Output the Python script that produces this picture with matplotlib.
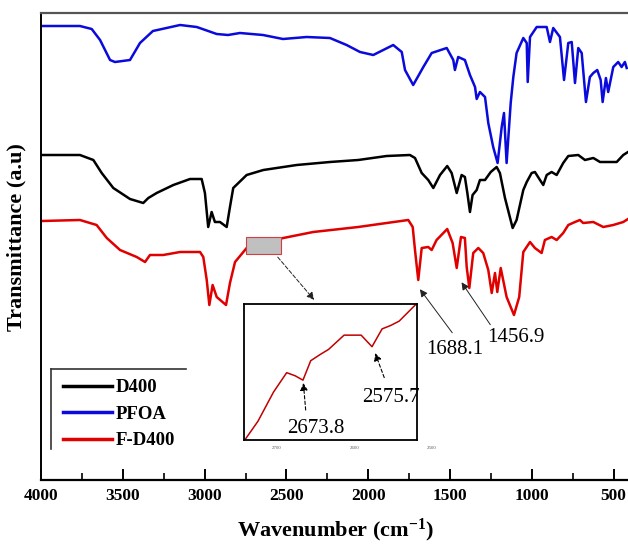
import matplotlib
matplotlib.use("Agg")
import matplotlib.pyplot as plt
from matplotlib.lines import Line2D
import matplotlib.transforms as mtransforms

plt.rcParams['font.family'] = ['Liberation Serif', 'DejaVu Serif']
plt.rcParams['mathtext.fontset'] = 'custom'
plt.rcParams['mathtext.rm'] = 'Liberation Serif:bold'
plt.rcParams['mathtext.it'] = 'Liberation Serif:bold'
plt.rcParams['mathtext.bf'] = 'Liberation Serif:bold'

# ---------------- data (wavenumber cm^-1, transmittance a.u.) ----------------
pfoa_wn = [3996, 3762, 3690, 3639, 3578, 3548, 3456, 3395, 3316, 3150, 3048, 2926,
           2857, 2784, 2643, 2521, 2376, 2234, 2132, 2050, 1969, 1847, 1795, 1775,
           1725, 1663, 1612, 1520, 1480, 1470, 1450, 1409, 1378, 1347, 1337, 1317,
           1286, 1266, 1236, 1209, 1184, 1170, 1154, 1129, 1113, 1093, 1052, 1031,
           1025, 1011, 970, 909, 889, 869, 828, 803, 777, 756, 736, 716, 695, 669,
           645, 624, 600, 579, 567, 547, 533, 502, 472, 451, 431, 420]
pfoa_t = [454, 454, 451, 440, 420, 418, 420, 437, 449, 455, 453, 446,
          445, 447, 445, 441, 443, 442, 435, 428, 425, 435, 428, 410,
          395, 413, 427, 432, 420, 410, 423, 420, 405, 393, 381, 388,
          383, 357, 333, 317, 353, 367, 317, 377, 403, 427, 442, 437,
          398, 443, 453, 453, 438, 452, 443, 400, 437, 438, 397, 432, 427, 378,
          403, 407, 410, 400, 378, 402, 388, 413, 418, 413, 418, 412]

d400_wn = [3996, 3762, 3680, 3629, 3558, 3456, 3375, 3344, 3293, 3191, 3089, 3018,
           2998, 2978, 2957, 2937, 2906, 2865, 2845, 2825, 2743, 2641, 2437, 2234,
           2061, 1887, 1745, 1714, 1673, 1633, 1602, 1561, 1517, 1490, 1459, 1429,
           1409, 1394, 1378, 1362, 1337, 1317, 1286, 1251, 1215, 1195, 1164, 1117,
           1093, 1052, 1031, 1001, 981, 950, 930, 909, 879, 848, 808, 777, 716,
           675, 624, 583, 481, 441, 412]
d400_t = [325, 325, 320, 307, 292, 281, 277, 282, 287, 295, 301, 301,
          287, 253, 268, 258, 258, 253, 273, 292, 305, 310, 315, 318,
          320, 324, 325, 322, 307, 300, 292, 305, 314, 307, 287, 305,
          303, 287, 268, 285, 290, 300, 300, 308, 313, 307, 282, 252,
          260, 290, 298, 307, 308, 300, 295, 305, 308, 305, 317, 324, 325,
          320, 322, 318, 318, 325, 328]

fd400_wn = [3996, 3762, 3660, 3598, 3517, 3415, 3364, 3334, 3253, 3150, 3028, 3008,
            2987, 2971, 2951, 2926, 2869, 2845, 2814, 2743, 2641, 2519, 2336, 2061,
            1887, 1755, 1728, 1714, 1694, 1673, 1633, 1612, 1582, 1517, 1484, 1459,
            1433, 1409, 1398, 1382, 1358, 1327, 1297, 1266, 1245, 1225, 1211, 1190,
            1154, 1109, 1077, 1052, 1011, 981, 940, 920, 879, 848, 808, 777, 736,
            706, 686, 624, 563, 502, 441, 412]
fd400_t = [259, 260, 255, 242, 230, 223, 218, 225, 225, 228, 228, 223,
           200, 175, 195, 183, 175, 197, 218, 232, 237, 242, 248, 253,
           257, 260, 253, 230, 200, 232, 233, 230, 240, 251, 237, 212,
           243, 242, 213, 192, 227, 232, 227, 210, 187, 207, 188, 212,
           183, 165, 183, 228, 238, 232, 227, 240, 243, 240, 247, 255, 258,
           260, 257, 258, 253, 255, 258, 261]

# zoomed inset of F-D400 (normalised transmittance)
inset_wn = [2741, 2724, 2704, 2687, 2676, 2666, 2656, 2644, 2633, 2613, 2591,
            2577, 2564, 2553, 2542, 2520]
inset_t = [0.0, 0.138, 0.352, 0.495, 0.472, 0.44, 0.583, 0.628, 0.666, 0.771,
           0.771, 0.686, 0.817, 0.842, 0.874, 1.0]
inset_ticks = [2700, 2600, 2500]

series = [("D400", d400_wn, d400_t, "black"),
          ("PFOA", pfoa_wn, pfoa_t, "#0a0adc"),
          ("F-D400", fd400_wn, fd400_t, "#e00000")]

main_ticks = [4000, 3500, 3000, 2500, 2000, 1500, 1000, 500]

# ---------------- figure ----------------
fig = plt.figure(figsize=(6.28, 5.47), dpi=100)
ax = fig.add_axes([41/628, 67/547, 587/628, 467/547])

for name, wn, t, c in series:
    ax.plot(wn, t, color=c, lw=1.8, label=name, solid_joinstyle='round')

ax.set_xlim(4000, 412)
ax.set_ylim(0, 467)
ax.set_xticks(main_ticks)
ax.set_xticks([3750, 3250, 2750, 2250, 1750, 1250, 750], minor=True)
ax.tick_params(axis='x', which='major', direction='in', length=8, width=1.4,
               pad=6, labelsize=12.5)
ax.tick_params(axis='x', which='minor', direction='in', length=5, width=1.2)
for lab in ax.get_xticklabels():
    lab.set_fontweight('bold')
ax.set_yticks([])
ax.spines['right'].set_visible(False)
ax.spines['top'].set_color('#555555')
ax.spines['top'].set_linewidth(1.6)
ax.spines['left'].set_linewidth(1.4)
ax.spines['bottom'].set_linewidth(1.6)

ax.set_xlabel("Wavenumber (cm$^{-1}$)", fontsize=16, fontweight='bold')
ax.xaxis.set_label_coords(0.501, -0.079)
ax.set_ylabel("Transmittance (a.u)", fontsize=16, fontweight='bold')
ax.yaxis.set_label_coords(-0.024, 0.52)

# legend
leg = ax.legend(loc='upper left', bbox_to_anchor=(0.025, 0.232), frameon=False,
                prop={'weight': 'bold', 'size': 13.5}, handlelength=2.6,
                handletextpad=0.2, labelspacing=0.5, borderaxespad=0)
for h in leg.get_lines():
    h.set_linewidth(2.5)
fig.add_artist(Line2D([50.7/628, 185.7/628], [1-369/547, 1-369/547],
                      transform=fig.transFigure, color='#333333', lw=1.2))
fig.add_artist(Line2D([50.7/628, 50.7/628], [1-369/547, 1-449/547],
                      transform=fig.transFigure, color='#333333', lw=1.2))

# highlighted region
ax.add_patch(plt.Rectangle((2747, 226), 2535-2747, 242.7-226, facecolor='#c0c0c0',
                           edgecolor='#d04040', lw=0.8, zorder=3))
ax.annotate('', xy=(2319, 178), xytext=(2564, 225),
            arrowprops=dict(arrowstyle='-|>', color='#222222', lw=0.7,
                            linestyle=(0, (4, 2)), mutation_scale=11))

# peak annotations
ax.annotate('', xy=(1694, 193), xytext=(1476, 145),
            arrowprops=dict(arrowstyle='-|>', color='#222222', lw=0.7, mutation_scale=11))
ax.text(1470, 131, "1688.1", fontsize=15, ha='center', va='center')
ax.annotate('', xy=(1439, 200), xytext=(1244, 153),
            arrowprops=dict(arrowstyle='-|>', color='#222222', lw=0.7, mutation_scale=11))
ax.text(1097, 143, "1456.9", fontsize=15, ha='center', va='center')

# ---------------- inset ----------------
axin = fig.add_axes([244/628, 1-440/547, 173/628, 136/547])
axin.plot(inset_wn, inset_t, color='#c00000', lw=1.1)
axin.set_xlim(2742, 2519)
axin.set_ylim(0, 1)
axin.set_xticks([])
axin.set_yticks([])
for s in axin.spines.values():
    s.set_linewidth(1.3)
tr = mtransforms.blended_transform_factory(axin.transData, axin.transAxes)
for tk in inset_ticks:
    axin.text(tk, -0.06, str(tk), transform=tr, fontsize=3.5, color='#555555',
              ha='center', va='center', clip_on=False)

axin.annotate('', xy=(2665.8, 0.44), xytext=(2662.2, 0.2),
              arrowprops=dict(arrowstyle='-|>', color='black', lw=0.8,
                              linestyle=(0, (3, 2)), mutation_scale=11))
axin.text(2649, 0.088, "2673.8", fontsize=15, ha='center', va='center')
axin.annotate('', xy=(2574.2, 0.658), xytext=(2560, 0.44),
              arrowprops=dict(arrowstyle='-|>', color='black', lw=0.8,
                              linestyle=(0, (3, 2)), mutation_scale=11))
axin.text(2553, 0.314, "2575.7", fontsize=15, ha='center', va='center')

fig.savefig("out.png", dpi=100)
